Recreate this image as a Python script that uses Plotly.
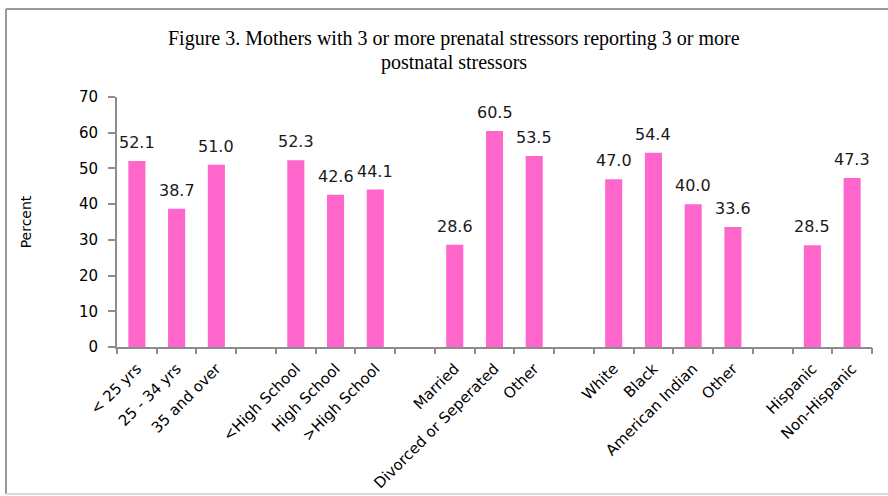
import plotly.graph_objects as go

# Data (None = spacer slot between groups)
categories = ["< 25 yrs", "25 - 34 yrs", "35 and over", "",
              "<High School", "High School", ">High School", "",
              "Married", "Divorced or Seperated", "Other", "",
              "White", "Black", "American Indian", "Other", "",
              "Hispanic", "Non-Hispanic"]
values = [52.1, 38.7, 51.0, None,
          52.3, 42.6, 44.1, None,
          28.6, 60.5, 53.5, None,
          47.0, 54.4, 40.0, 33.6, None,
          28.5, 47.3]
y_ticks = [0, 10, 20, 30, 40, 50, 60, 70]

title_lines = ["Figure 3. Mothers with 3 or more prenatal stressors reporting 3 or more",
               "postnatal stressors"]

slots = list(range(len(categories)))
bar_x = [s for s, v in zip(slots, values) if v is not None]
bar_y = [v for v in values if v is not None]
labels = [categories[s] for s in bar_x]

PINK = "#FF66CC"
AXIS = "#8C8C8C"
FONT = "DejaVu Sans"

fig = go.Figure()
fig.add_trace(go.Bar(x=bar_x, y=bar_y, marker=dict(color=PINK, line=dict(width=0)),
                     width=0.43, hoverinfo="y", showlegend=False))
# invisible trace on boundary-tick axis
fig.add_trace(go.Scatter(x=[slots[0] - 0.5, slots[-1] + 0.5], y=[0, 0], xaxis="x2",
                         mode="markers", marker=dict(opacity=0), showlegend=False,
                         hoverinfo="skip"))

for x, y in zip(bar_x, bar_y):
    fig.add_annotation(x=x, y=y, text=f"{y:.1f}", showarrow=False, yanchor="bottom",
                       yshift=7, font=dict(family=FONT, size=16, color="#1a1a1a"))

# title lines
for line, yp in zip(title_lines, [1 + (97 - 38) / 250, 1 + (97 - 63) / 250]):
    fig.add_annotation(xref="paper", yref="paper", x=(454 - 117) / 755, y=yp,
                       xanchor="center", yanchor="middle", showarrow=False, text=line,
                       font=dict(family="Liberation Serif", size=20, color="black"))

xr = [slots[0] - 0.5, slots[-1] + 0.5]
fig.update_layout(
    width=888, height=496,
    margin=dict(l=117, r=16, t=97, b=149, autoexpand=False),
    paper_bgcolor="white", plot_bgcolor="white",
    xaxis=dict(range=xr, tickmode="array", tickvals=bar_x, ticktext=labels,
               tickangle=-45, ticks="", showgrid=False, zeroline=False, automargin=False,
               showline=True, linecolor=AXIS, linewidth=2, ticklabelstandoff=5,
               tickfont=dict(family=FONT, size=15, color="black")),
    xaxis2=dict(range=xr, overlaying="x", side="bottom", tickmode="array",
                tickvals=[s - 0.5 for s in slots] + [slots[-1] + 0.5], automargin=False,
                ticks="outside", ticklen=6, tickwidth=2, tickcolor=AXIS,
                showticklabels=False, showgrid=False, zeroline=False, showline=False),
    yaxis=dict(range=[0, 70], tickmode="array", tickvals=y_ticks, ticks="outside",
               ticklen=7, tickwidth=2, tickcolor=AXIS, showline=True, linecolor=AXIS,
               linewidth=2, showgrid=False, zeroline=False, ticklabelstandoff=7,
               automargin=False,
               tickfont=dict(family=FONT, size=15, color="black"),
               title=dict(text="Percent", standoff=44,
                          font=dict(family=FONT, size=14, color="black"))),
    bargap=0.57,
)

# outer chart frame: left & top darker, bottom lighter
fx0 = (6 - 117) / 755
fy_top = 1 + (97 - 9) / 250
fy_bot = -(494 - 347) / 250
fig.add_shape(type="line", xref="paper", yref="paper", x0=fx0, x1=fx0, y0=fy_bot, y1=fy_top,
              line=dict(color="#9a9a9a", width=2))
fig.add_shape(type="line", xref="paper", yref="paper", x0=fx0, x1=1.1, y0=fy_top, y1=fy_top,
              line=dict(color="#9a9a9a", width=2))
fig.add_shape(type="line", xref="paper", yref="paper", x0=fx0, x1=1.1, y0=fy_bot, y1=fy_bot,
              line=dict(color="#d9d9d9", width=2))

fig.write_html("out.html")
